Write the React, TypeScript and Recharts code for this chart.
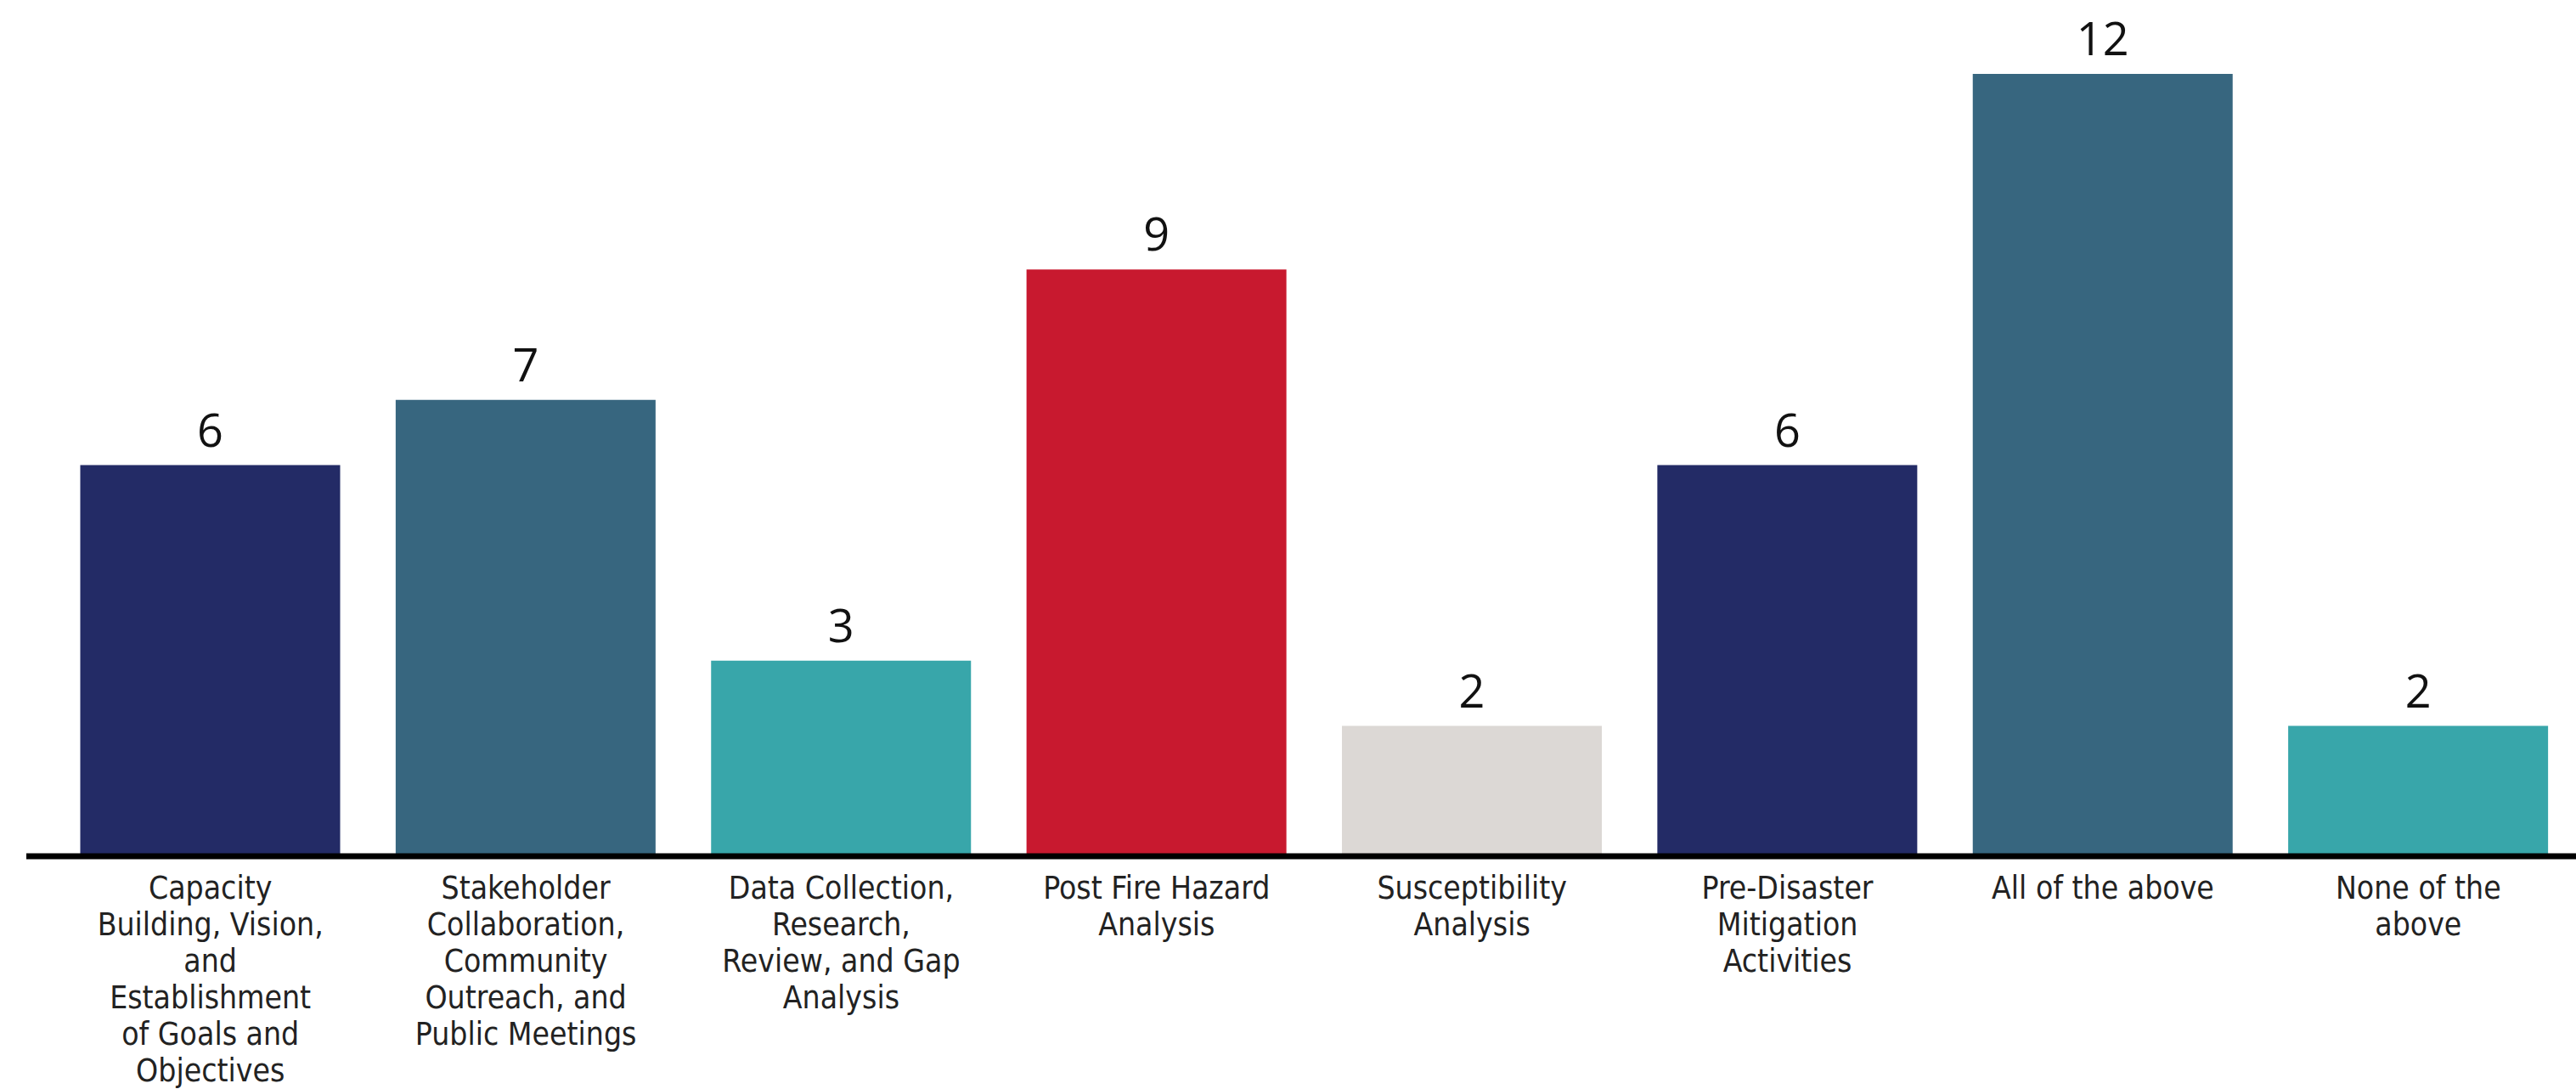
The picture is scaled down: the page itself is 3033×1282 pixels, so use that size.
import { BarChart, Bar, XAxis, YAxis, Cell, LabelList } from 'recharts';

const categories = [
  'Capacity Building, Vision, and Establishment of Goals and Objectives',
  'Stakeholder Collaboration, Community Outreach, and Public Meetings',
  'Data Collection, Research, Review, and Gap Analysis',
  'Post Fire Hazard Analysis',
  'Susceptibility Analysis',
  'Pre-Disaster Mitigation Activities',
  'All of the above',
  'None of the above',
];

const counts = [6, 7, 3, 9, 2, 6, 12, 2];

// wrapped tick labels, one line per entry
const tickLabels = [
  ['Capacity', 'Building, Vision,', 'and', 'Establishment', 'of Goals and', 'Objectives'],
  ['Stakeholder', 'Collaboration,', 'Community', 'Outreach, and', 'Public Meetings'],
  ['Data Collection,', 'Research,', 'Review, and Gap', 'Analysis'],
  ['Post Fire Hazard', 'Analysis'],
  ['Susceptibility', 'Analysis'],
  ['Pre-Disaster', 'Mitigation', 'Activities'],
  ['All of the above'],
  ['None of the', 'above'],
];

const barColors = ['#232B66', '#37667F', '#38A6AA', '#C8192F', '#DCD8D5', '#232B66', '#37667F', '#38A6AA'];

const chartData = categories.map((name, i) => ({ name, count: counts[i] }));

const labelFont = '"Liberation Sans Narrow", "DejaVu Sans Condensed", "Roboto", sans-serif';

function WrappedTick({ x, y, payload }: any) {
  const idx = categories.indexOf(payload.value);
  const lines = tickLabels[idx] || [payload.value];
  return (
    <text
      x={x}
      y={y}
      textAnchor="middle"
      fill="#222"
      fontSize={37}
      fontFamily={labelFont}
    >
      {lines.map((line, i) => (
        <tspan key={i} x={x} dy={i === 0 ? 42 : 43}>
          {line}
        </tspan>
      ))}
    </text>
  );
}

export default function App() {
  return (
    <div style={{ position: 'absolute', left: 0, top: 0, width: 3033, height: 1282, background: '#fff' }}>
      <BarChart
        width={3033}
        height={1282}
        data={chartData}
        margin={{ top: 87, right: 0, left: 31, bottom: 0 }}
        barCategoryGap="8.75%"
      >
        <XAxis
          dataKey="name"
          interval={0}
          height={274}
          padding={{ left: 31, right: 0 }}
          tickLine={false}
          axisLine={{ stroke: '#000', strokeWidth: 7 }}
          tick={<WrappedTick />}
        />
        <YAxis hide domain={[0, 12]} />
        <Bar dataKey="count" isAnimationActive={false}>
          {chartData.map((d, i) => (
            <Cell key={d.name} fill={barColors[i]} />
          ))}
          <LabelList
            dataKey="count"
            position="top"
            offset={22}
            fill="#111"
            fontSize={54}
            fontFamily='"Open Sans", sans-serif'
          />
        </Bar>
      </BarChart>
    </div>
  );
}
